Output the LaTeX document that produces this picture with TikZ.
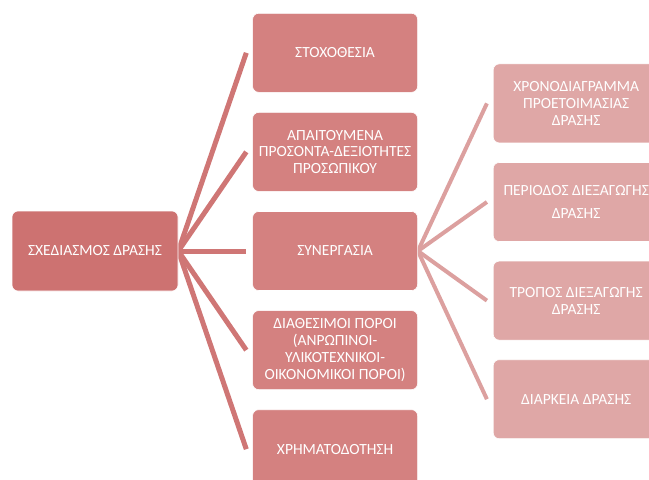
\documentclass[tikz,border=0pt]{standalone}
\usepackage{fontspec}
\setmainfont{Carlito}
\usepackage{tikz}
\usetikzlibrary{
        backgrounds,
        positioning
    }
\definecolor{rootred}{RGB}{205,114,113}
\definecolor{midred}{RGB}{212,129,128}
\definecolor{subred}{RGB}{223,167,166}
\definecolor{linkred}{RGB}{207,118,117}
\definecolor{sublinkred}{RGB}{220,160,159}
\tikzset{box/.style={rectangle,rounded corners=6pt,draw=white,line width=0.6pt,
        text=white,align=center,inner sep=2pt,minimum width=165pt,minimum height=79pt,
        font=\fontsize{15.5}{16.8}\selectfont}}
\tikzset{rootbox/.style={box,fill=rootred,minimum width=166pt,minimum height=80pt}}
\tikzset{midbox/.style={box,fill=midred}}
\tikzset{subbox/.style={box,fill=subred,minimum width=166pt}}
\tikzset{link/.style={draw=linkred,line width=5pt},sublink/.style={draw=sublinkred,line width=4pt}}

\begin{document}
\begin{tikzpicture}[]
            \useasboundingbox (0,0) rectangle (649pt,-480pt);
            \node[rootbox] (plan) at (95pt,-251pt) {ΣΧΕΔΙΑΣΜΟΣ ΔΡΑΣΗΣ};
            \node[midbox] (coop)   [right=74pt of plan]   {ΣΥΝΕΡΓΑΣΙΑ};
            \node[midbox] (skills) [above=19.5pt of coop] {ΑΠΑΙΤΟΥΜΕΝΑ\\ΠΡΟΣΟΝΤΑ-ΔΕΞΙΟΤΗΤΕΣ\\ΠΡΟΣΩΠΙΚΟΥ};
            \node[midbox] (goals)  [above=19.5pt of skills] {ΣΤΟΧΟΘΕΣΙΑ};
            \node[midbox] (means)  [below=19.5pt of coop] {ΔΙΑΘΕΣΙΜΟΙ ΠΟΡΟΙ\\(ΑΝΡΩΠΙΝΟΙ-\\ΥΛΙΚΟΤΕΧΝΙΚΟΙ-\\ΟΙΚΟΝΟΜΙΚΟΙ ΠΟΡΟΙ)};
            \node[midbox] (funds)  [below=19.5pt of means] {ΧΡΗΜΑΤΟΔΟΤΗΣΗ};
            \node[subbox] (period) [right=75pt of coop, yshift=49pt] {ΠΕΡΙΟΔΟΣ ΔΙΕΞΑΓΩΓΗΣ\\[7pt]ΔΡΑΣΗΣ};
            \node[subbox] (sched)  [above=19pt of period] {ΧΡΟΝΟΔΙΑΓΡΑΜΜΑ\\ΠΡΟΕΤΟΙΜΑΣΙΑΣ\\ΔΡΑΣΗΣ};
            \node[subbox] (mode)   [below=19pt of period] {ΤΡΟΠΟΣ ΔΙΕΞΑΓΩΓΗΣ\\ΔΡΑΣΗΣ};
            \node[subbox] (length) [below=19pt of mode]   {ΔΙΑΡΚΕΙΑ ΔΡΑΣΗΣ};
            \begin{scope}[on background layer]
            \path[link]
                (plan.east) edge ([xshift=-6pt]goals.west)
                (plan.east) edge ([xshift=-6pt]skills.west)
                (plan.east) edge ([xshift=-6pt]coop.west)
                (plan.east) edge ([xshift=-6pt]means.west)
                (plan.east) edge ([xshift=-6pt]funds.west)
                ;
            \path[sublink]
                (coop.east) edge ([xshift=-6pt]sched.west)
                (coop.east) edge ([xshift=-6pt]period.west)
                (coop.east) edge ([xshift=-6pt]mode.west)
                (coop.east) edge ([xshift=-6pt]length.west)
                ;
            \end{scope}
        \end{tikzpicture}
\end{document}
